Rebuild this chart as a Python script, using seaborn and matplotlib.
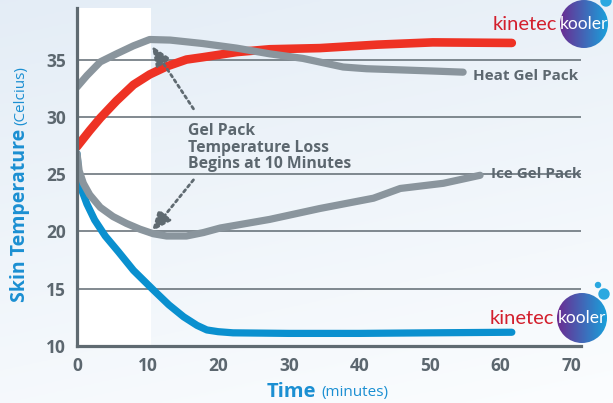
import numpy as np
import matplotlib
matplotlib.use("Agg")
import matplotlib.pyplot as plt
from matplotlib.patches import Circle
import seaborn as sns

# time in minutes, skin temperature in Celcius
t_heat_kooler = [0, 1.8, 3.3, 5.6, 8.0, 10.3, 12.7, 15.5, 17.8, 22.6, 27.3, 34.4, 42.5, 50.4, 61.6]
T_heat_kooler = [27.4, 28.8, 29.9, 31.4, 32.8, 33.7, 34.4, 35.0, 35.2, 35.65, 35.9, 36.0, 36.3, 36.5, 36.45]

t_heat_gel = [0, 1.4, 3.3, 5.6, 8.0, 10.3, 13.2, 17.8, 22.6, 27.3, 32.0, 37.7, 41.0, 45.8, 50.4, 54.7]
T_heat_gel = [32.6, 33.6, 34.8, 35.5, 36.2, 36.75, 36.7, 36.4, 36.0, 35.5, 35.1, 34.35, 34.2, 34.1, 34.0, 33.9]

t_ice_gel = [0, 0.3, 0.9, 1.8, 3.3, 5.1, 7.0, 8.9, 10.8, 12.7, 15.5, 17.9, 20.3, 27.3, 34.4, 42.0, 45.8, 51.9, 57.1]
T_ice_gel = [26.8, 25.3, 24.2, 23.2, 22.1, 21.3, 20.7, 20.2, 19.8, 19.6, 19.6, 19.9, 20.3, 21.05, 22.0, 22.9, 23.75, 24.2, 24.9]

t_ice_kooler = [0, 0.2, 0.5, 1.4, 2.5, 4.0, 5.9, 8.0, 10.8, 13.0, 15.1, 17.0, 18.4, 20.0, 22.1, 30, 40, 50, 61.6]
T_ice_kooler = [26.8, 25.3, 23.9, 22.4, 21.0, 19.6, 18.2, 16.6, 14.9, 13.6, 12.55, 11.8, 11.4, 11.25, 11.15, 11.1, 11.1, 11.15, 11.2]

x_ticks = [0, 10, 20, 30, 40, 50, 60, 70]
y_ticks = [10, 15, 20, 25, 30, 35]

GREY_TXT = "#5c676f"
BLUE_TXT = "#1b8fd2"

sns.set_style("white")
plt.rcParams["font.family"] = ["Open Sans", "DejaVu Sans"]

fig = plt.figure(figsize=(6.13, 4.03), dpi=100)

# soft blue background gradient
bg = fig.add_axes([0, 0, 1, 1], zorder=0)
gy = np.linspace(0, 1, 200)[:, None]
gx = np.linspace(0, 1, 200)[None, :]
mix = np.clip(0.75 * gy + 0.25 * gx, 0, 1)
top = np.array([0.894, 0.929, 0.965])
bot = np.array([0.985, 0.992, 0.998])
img = top[None, None, :] * (1 - mix[..., None]) + bot[None, None, :] * mix[..., None]
bg.imshow(img, extent=[0, 1, 0, 1], aspect="auto", origin="upper")
bg.axis("off")

ax = fig.add_axes([77 / 613, 1 - 346 / 403, (581 - 77) / 613, (346 - 8) / 403], zorder=1)
ax.set_facecolor("none")
ax.axvspan(0, 10.5, color="white", zorder=0, lw=0)

for yv in y_ticks[1:]:
    ax.axhline(yv, color="#5f6a71", lw=1.1, zorder=1)

sns.lineplot(x=t_heat_kooler, y=T_heat_kooler, ax=ax, color="#ee3224", linewidth=6.2,
             solid_capstyle="round", solid_joinstyle="round", zorder=3)
sns.lineplot(x=t_heat_gel, y=T_heat_gel, ax=ax, color="#8a959d", linewidth=5.2,
             solid_capstyle="round", solid_joinstyle="round", zorder=4)
sns.lineplot(x=t_ice_kooler, y=T_ice_kooler, ax=ax, color="#0a90cf", linewidth=5.2,
             solid_capstyle="round", solid_joinstyle="round", zorder=3)
sns.lineplot(x=t_ice_gel, y=T_ice_gel, ax=ax, color="#8a959d", linewidth=5.2,
             solid_capstyle="round", solid_joinstyle="round", zorder=4)

ax.set_xlim(0, 71.4)
ax.set_ylim(10, 39.5)
ax.set_xticks(x_ticks)
ax.set_yticks(y_ticks)
ax.tick_params(length=0, labelsize=12.5, labelcolor=GREY_TXT, pad=8)
for lab in ax.get_xticklabels() + ax.get_yticklabels():
    lab.set_fontweight("bold")
ax.set_xlabel("")
ax.set_ylabel("")
for s in ["top", "right"]:
    ax.spines[s].set_visible(False)
for s in ["left", "bottom"]:
    ax.spines[s].set_color("#5f6a71")
    ax.spines[s].set_linewidth(2.3)
    ax.spines[s].set_zorder(5)

# series labels
ax.text(56.1, 33.6, "Heat Gel Pack", color=GREY_TXT, fontsize=11, fontweight="bold",
        ha="left", va="center")
ax.text(58.6, 25.0, "Ice Gel Pack", color=GREY_TXT, fontsize=11, fontweight="bold",
        ha="left", va="center")

# callout
ax.text(15.7, 27.3, "Gel Pack\nTemperature Loss\nBegins at 10 Minutes", color=GREY_TXT,
        fontsize=11.3, fontweight="bold", ha="left", va="center", linespacing=1.05)
arrow = dict(arrowstyle="-|>,head_length=1.2,head_width=0.5", color="#5f6a71",
             lw=2.0, ls=(0, (1, 1.3)), mutation_scale=10, shrinkA=0, shrinkB=0)
ax.annotate("", xy=(10.6, 36.2), xytext=(16.5, 30.7), arrowprops=arrow, zorder=6)
ax.annotate("", xy=(10.6, 20.0), xytext=(16.5, 24.5), arrowprops=arrow, zorder=6)

# axis titles with mixed weights
skin = fig.text(20 / 613, 1 - 302 / 403, "Skin Temperature", rotation=90, color=BLUE_TXT,
                fontsize=14, fontweight="bold", ha="center", va="bottom")
ax.annotate("(Celcius)", xy=(0.5, 1), xycoords=skin, xytext=(0.5, 3),
            textcoords="offset points", rotation=90, color=BLUE_TXT, fontsize=11,
            ha="center", va="bottom", annotation_clip=False)
time_t = fig.text(316 / 613, 1 - 392 / 403, "Time", color=BLUE_TXT, fontsize=14.5,
                  fontweight="bold", ha="right", va="center")
ax.annotate("(minutes)", xy=(1, 0.5), xycoords=time_t, xytext=(4, -0.5),
            textcoords="offset points", color=BLUE_TXT, fontsize=11,
            ha="left", va="center", annotation_clip=False)

# brand logos
deco = fig.add_axes([0, 0, 1, 1], zorder=2)
deco.set_xlim(0, 613)
deco.set_ylim(403, 0)
deco.axis("off")
grad = np.linspace(0, 1, 100)[None, :, None]
purple = np.array([0.42, 0.17, 0.57])
cyan = np.array([0.10, 0.63, 0.86])
logo_img = purple * (1 - grad) + cyan * grad


def logo(cx, cy, r, text_right):
    im = deco.imshow(logo_img, extent=[cx - r, cx + r, cy + r, cy - r], aspect="auto", zorder=1)
    circ = Circle((cx, cy), r, transform=deco.transData, fc="none", ec="none")
    deco.add_patch(circ)
    im.set_clip_path(circ)
    deco.text(cx, cy, "kooler", color="white", fontsize=12.5, ha="center", va="center",
              family=["Lato", "DejaVu Sans"], zorder=5)
    deco.text(text_right, cy, "kinetec", color="#d31f2d", fontsize=14.5, ha="right",
              va="center", family=["Lato", "DejaVu Sans"], zorder=5)


logo(584, 24, 24, 557)
deco.add_patch(Circle((606, 1), 5, color="#2aa8e0"))
logo(582, 318, 25, 554)
deco.add_patch(Circle((598, 285), 2.5, color="#2aa8e0"))
deco.add_patch(Circle((604, 294), 5, color="#2aa8e0"))
deco.set_xlim(0, 613)
deco.set_ylim(403, 0)

fig.savefig("out.png", dpi=100)
